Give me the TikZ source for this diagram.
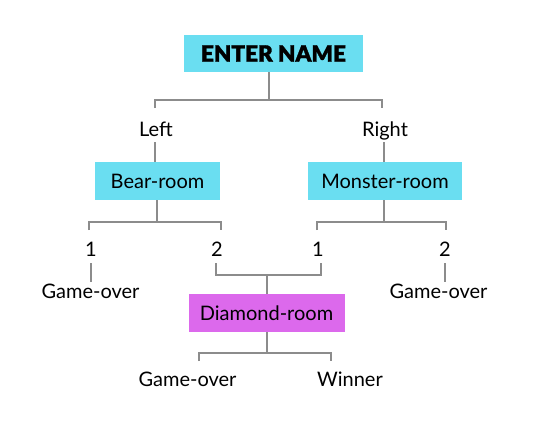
\documentclass[tikz,border=0pt]{standalone}
\usepackage{fontspec}
\setmainfont{Lato}
\newfontfamily\heavyfont{Lato Black}[FakeBold=1.4]
\definecolor{roomcyan}{HTML}{6ADEF1}
\definecolor{roompink}{HTML}{DC69EC}
\definecolor{wire}{HTML}{8C8C8C}
\begin{document}
\begin{tikzpicture}[x=1pt,y=-1pt,
  room/.style={inner sep=0pt, text=black, font=\fontsize{20}{22}\selectfont},
  lbl/.style={inner sep=0pt, anchor=base, font=\fontsize{20}{22}\selectfont},
  wire/.style={draw=wire, line width=1.2pt}]
\useasboundingbox (0,0) rectangle (549,436);

% boxes
\node[room, fill=roomcyan, minimum width=179pt, minimum height=37pt,
      font=\heavyfont\fontsize{22.5}{24}\selectfont] (enter) at (273.5,53.5) {ENTER NAME};
\node[room, fill=roomcyan, minimum width=125pt, minimum height=38pt] (bear) at (157.5,181) {Bear-room};
\node[room, fill=roomcyan, minimum width=154pt, minimum height=38pt] (monster) at (385,181) {Monster-room};
\node[room, fill=roompink, minimum width=156pt, minimum height=38pt] (diamond) at (266.5,313) {Diamond-room};

% labels (placed by baseline)
\node[lbl] (left) at (156,136) {Left};
\node[lbl] (right) at (385,136) {Right};
\node[lbl] (b1) at (91,256) {1};
\node[lbl] (b2) at (217,256) {2};
\node[lbl] (m1) at (318,256) {1};
\node[lbl] (m2) at (445,256) {2};
\node[lbl] (go1) at (90.5,298) {Game-over};
\node[lbl] (go2) at (438.5,298) {Game-over};
\node[lbl] (go3) at (187.5,386) {Game-over};
\node[lbl] (win) at (350,386) {Winner};

% junction points
\coordinate (eJ) at (269,100);
\coordinate (lT) at (155,108);  \coordinate (rT) at (382,108);
\coordinate (lB) at (155,142);  \coordinate (rB) at (384,142);
\coordinate (bJ) at (157,222);
\coordinate (b1T) at (89,230);  \coordinate (b2T) at (221,230);
\coordinate (mJ) at (384,222);
\coordinate (m1T) at (317,230); \coordinate (m2T) at (446,230);
\coordinate (b1B) at (91,263);  \coordinate (go1T) at (91,282);
\coordinate (m2B) at (445,263); \coordinate (go2T) at (445,282);
\coordinate (b2B) at (216,263); \coordinate (m1B) at (321,263);
\coordinate (dJ) at (267,275);
\coordinate (dB) at (267,353);
\coordinate (go3T) at (199,361); \coordinate (winT) at (331,361);

% connectors
\draw[wire] (enter.south -| eJ) -- (eJ);
\draw[wire] (lT) |- (eJ) -| (rT);
\draw[wire] (lB) -- (bear.north -| lB);
\draw[wire] (rB) -- (monster.north -| rB);
\draw[wire] (bear.south -| bJ) -- (bJ);
\draw[wire] (b1T) |- (bJ) -| (b2T);
\draw[wire] (monster.south -| mJ) -- (mJ);
\draw[wire] (m1T) |- (mJ) -| (m2T);
\draw[wire] (b1B) -- (go1T);
\draw[wire] (m2B) -- (go2T);
\draw[wire] (b2B) |- (dJ) -| (m1B);
\draw[wire] (dJ) -- (diamond.north -| dJ);
\draw[wire] (diamond.south -| dB) -- (dB);
\draw[wire] (go3T) |- (dB) -| (winT);
\end{tikzpicture}
\end{document}
